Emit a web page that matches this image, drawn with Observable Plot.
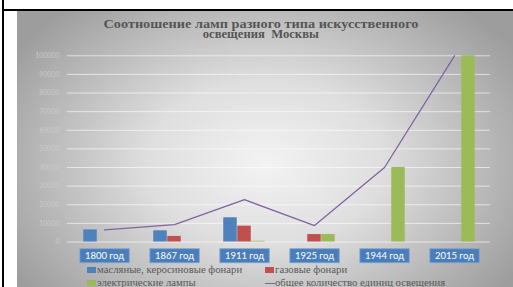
<!DOCTYPE html>
<html><head><meta charset="utf-8">
<script src="https://cdn.jsdelivr.net/npm/d3@7"></script>
<script src="https://cdn.jsdelivr.net/npm/@observablehq/plot@0.6"></script>
<style>
html,body{margin:0;padding:0;background:#fff;}
#root{position:relative;width:513px;height:287px;overflow:hidden;background:#fff;}
#vline{position:absolute;left:2px;top:0;width:2px;height:287px;background:#000;}
#hline{position:absolute;left:2px;top:9px;width:511px;height:2px;background:#000;}
#panel{position:absolute;left:17px;top:11px;width:496px;height:276px;
  background:radial-gradient(ellipse 60% 75% at 50% 55%, #f3f3f3 0%, #dedede 40%, #9d9d9d 100%);}
#title{position:absolute;left:17px;top:18.5px;width:488px;text-align:center;
  font-family:"Liberation Serif",serif;font-weight:bold;font-size:11.5px;line-height:10.8px;color:#555;white-space:pre;}
#title span{display:inline-block;transform-origin:center;}
#chart{position:absolute;left:17px;top:45px;}
.leg{position:absolute;font-family:"Liberation Serif",serif;font-size:10px;line-height:10px;color:#595959;white-space:nowrap;}
.leg .sw{position:absolute;left:0;top:2px;width:9px;height:6px;}
.leg .ln{position:absolute;left:0;top:4.5px;width:10px;height:1.3px;}
.leg .tx{position:absolute;left:10px;top:0;display:inline-block;transform:scaleX(1.07);transform-origin:left center;}
</style></head>
<body>
<div id="root">
  <div id="panel"></div>
  <div id="vline"></div>
  <div id="hline"></div>
  <div id="title"></div>
  <div id="chart"></div>
  <div id="legend"></div>
</div>
<script>
const titleLines = ["Соотношение ламп разного типа искусственного", "освещения  Москвы"];
const years = ["1800 год", "1867 год", "1911 год", "1925 год", "1944 год", "2015 год"];
const oilLamps = [6500, 6000, 13000, 0, 0, 0];
const gasLamps = [0, 3000, 8500, 4000, 0, 0];
const electricLamps = [0, 0, 400, 4000, 40000, 100000];
const totalLights = [6500, 9300, 22700, 8800, 40000, 100000];
const yTicks = [0, 10000, 20000, 30000, 40000, 50000, 60000, 70000, 80000, 90000, 100000];
const seriesNames = ["масляные, керосиновые фонари", "газовые фонари", "электрические лампы", "общее количество единиц освещения"];
const seriesColors = ["#4f81bd", "#c0504d", "#9bbb59", "#8064a2"];

const rows = years.map((year, i) => ({year, oil: oilLamps[i], gas: gasLamps[i], el: electricLamps[i], total: totalLights[i]}));

const titleScale = [1.24, 1.1];
document.getElementById("title").innerHTML = titleLines.map((t, i) => `<span style="transform:scaleX(${titleScale[i]})">${t}</span>`).join("<br>");

const W = 496, H = 222;
const plot = Plot.plot({
  width: W, height: H,
  marginLeft: 50, marginRight: 23, marginTop: 10.3, marginBottom: 25.5,
  style: {background: "transparent", fontFamily: "Lato, sans-serif"},
  x: {type: "band", domain: years, padding: 0, label: null},
  y: {domain: [0, 100000], ticks: yTicks, label: null},
  marks: [
    Plot.gridY(yTicks, {stroke: "#ffffff", strokeOpacity: 0.6, strokeWidth: 1}),
    Plot.axisY(yTicks, {tickSize: 0, tickPadding: 8, fontSize: 7, fill: "#cacaca", tickFormat: d => String(d), label: null}),
    Plot.axisX({tickSize: 0, tickPadding: 10.5, fontSize: 9.5, fill: "#ffffff", label: null}),
    Plot.barY(rows, {x: "year", y: "oil", fill: seriesColors[0], dx: -14, insetLeft: 28.25, insetRight: 28.25}),
    Plot.barY(rows, {x: "year", y: "gas", fill: seriesColors[1], dx: 0, insetLeft: 28.25, insetRight: 28.25}),
    Plot.barY(rows, {x: "year", y: "el", fill: seriesColors[2], dx: 14, insetLeft: 28.25, insetRight: 28.25}),
    Plot.line(rows, {x: "year", y: "total", stroke: seriesColors[3], strokeWidth: 1.3})
  ]
});
document.getElementById("chart").appendChild(plot);

// boxes behind x tick labels
plot.querySelectorAll('g[aria-label="x-axis tick label"] text').forEach(t => {
  const bb = t.getBBox();
  const r = document.createElementNS("http://www.w3.org/2000/svg", "rect");
  r.setAttribute("x", bb.x - 5);
  r.setAttribute("y", bb.y + bb.height / 2 - 7);
  r.setAttribute("width", bb.width + 10);
  r.setAttribute("height", 14);
  r.setAttribute("fill", "#4a7ebb");
  r.setAttribute("stroke", "#7ea3d3");
  r.setAttribute("stroke-width", 0.8);
  const tr = t.getAttribute("transform");
  if (tr) r.setAttribute("transform", tr);
  t.parentNode.insertBefore(r, t);
});

// legend
const legend = document.getElementById("legend");
const legPos = [[87, 265], [265, 265], [87, 278], [265, 278]];
seriesNames.forEach((name, i) => {
  const d = document.createElement("div");
  d.className = "leg";
  d.style.left = legPos[i][0] + "px";
  d.style.top = legPos[i][1] + "px";
  const mark = i === 3 ? `<span class="ln" style="background:${seriesColors[i]}"></span>` : `<span class="sw" style="background:${seriesColors[i]}"></span>`;
  d.innerHTML = mark + `<span class="tx">${name}</span>`;
  legend.appendChild(d);
});
</script>
</body></html>
